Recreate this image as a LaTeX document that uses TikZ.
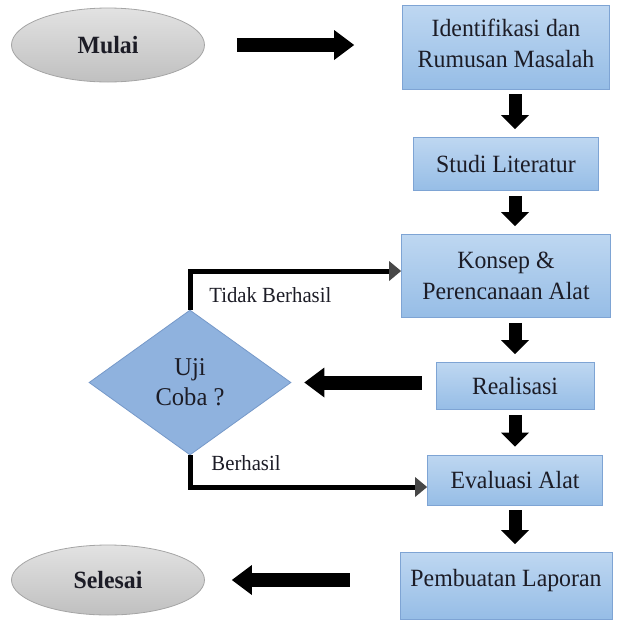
\documentclass[tikz,border=0pt]{standalone}
\usepackage{xcolor}
\usepackage{fontspec}
\setmainfont{Liberation Serif}[FakeStretch=0.96]
\usepackage{tikz}
\usetikzlibrary{shapes.geometric, arrows.meta}

\definecolor{boxtop}{RGB}{190,215,241}
\definecolor{boxbot}{RGB}{150,189,230}
\definecolor{boxline}{RGB}{126,164,212}
\definecolor{greytop}{RGB}{226,226,226}
\definecolor{greybot}{RGB}{192,192,192}
\definecolor{greyline}{RGB}{165,165,165}
\definecolor{diafill}{RGB}{143,178,222}
\definecolor{dialine}{RGB}{118,153,201}
\definecolor{txt}{RGB}{28,28,38}

\begin{document}
\begin{tikzpicture}[x=0.5pt, y=-0.5pt, auto, >=stealth, font=\fontsize{12.4}{15.5}\selectfont, text=txt]
\tikzset{
  startstop/.style = {ellipse, draw=greyline, top color=greytop, bottom color=greybot, minimum width=96.5pt, minimum height=37pt, inner sep=0pt, font=\fontsize{12.4}{14}\selectfont\bfseries},
  decision/.style = {diamond, draw=dialine, fill=diafill, minimum width=101pt, minimum height=72.5pt, inner sep=0pt, align=center, font=\fontsize{12.8}{15}\selectfont},
  block/.style = {rectangle, draw=boxline, top color=boxtop, bottom color=boxbot, align=center, inner sep=0pt},
  note/.style = {font=\fontsize{10.8}{12}\selectfont, inner sep=0pt},
  line/.style = {draw, line width=2.5pt, -{Triangle[length=6pt, width=10pt, line width=0pt, color=black!72]}},
  bigline/.style = {draw, line width=7pt, -{Triangle[length=10pt, width=15pt, line width=0pt]}},
  downline/.style = {draw, line width=6.5pt, shorten <=2.5pt, shorten >=4pt, -{Triangle[length=7pt, width=14pt, line width=0pt]}}
}
\useasboundingbox (0,0) rectangle (638,622);
\node [startstop] (mulai) at (108,45) {Mulai};
\node [block, minimum width=103.5pt, minimum height=42pt] (identifikasi) at (506,47) {Identifikasi dan\\Rumusan Masalah\\[-11.5pt]};
\node [block, below of=identifikasi, node distance=58.5pt, minimum width=92.5pt, minimum height=26.5pt] (studi) {Studi Literatur};
\node [block, below of=studi, node distance=56pt, minimum width=104.5pt, minimum height=41.5pt] (konsep) {Konsep \&\\Perencanaan Alat};
\node [block, below of=konsep, node distance=55pt, xshift=4.5pt, minimum width=79pt, minimum height=23.5pt] (realisasi) {Realisasi};
\node [block, below of=realisasi, node distance=47pt, minimum width=87.5pt, minimum height=25pt] (evaluasi) {Evaluasi Alat};
\node [block, below of=evaluasi, node distance=53pt, xshift=-4.5pt, minimum width=106pt, minimum height=33.5pt] (laporan) {Pembuatan Laporan\\[-7.5pt]};
\node [startstop, minimum height=35pt] (selesai) at (108,580) {Selesai};
\node [decision] (uji) at (190,382.5) {Uji\\Coba ?};
% block arrows
\path [bigline, shorten <=16pt, shorten >=24pt] (mulai) -- (mulai -| identifikasi.west);
\path [downline] (identifikasi.south -| realisasi) -- (studi.north -| realisasi);
\path [downline] (studi.south -| realisasi) -- (konsep.north -| realisasi);
\path [downline] (konsep.south -| realisasi) -- (realisasi.north);
\path [downline] (realisasi.south) -- (evaluasi.north -| realisasi);
\path [downline] (evaluasi.south -| realisasi) -- (laporan.north -| realisasi);
\path [bigline, shorten <=7pt, shorten >=6.5pt] (realisasi.west |- uji) -- (uji.east);
\path [bigline, shorten <=25pt, shorten >=13.5pt] (laporan.west |- selesai) -- (selesai.east);
% test result
\path [line] (uji.north) |- node [note, pos=0.54, anchor=north west, yshift=-7pt] {Tidak Berhasil} ([yshift=2.5pt]konsep.west);
\path [line] (uji.south) |- node [note, pos=0.54, anchor=south west, yshift=7pt] {Berhasil} ([yshift=-3.5pt]evaluasi.west);
\end{tikzpicture}
\end{document}
